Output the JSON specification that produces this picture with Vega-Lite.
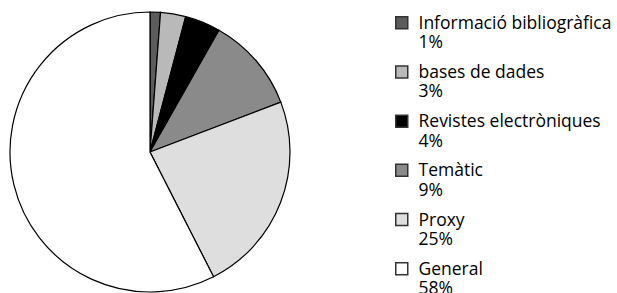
{
  "$schema": "https://vega.github.io/schema/vega-lite/v6.json",
  "width": 300,
  "height": 292,
  "autosize": {"type": "none"},
  "padding": {"left": 0, "top": 6, "right": 317, "bottom": 0},
  "background": "white",
  "view": {"stroke": null},
  "data": {
    "values": [
      {"cat": "Informació bibliogràfica|1%", "value": 1.2, "rank": 1},
      {"cat": "bases de dades|3%", "value": 2.9, "rank": 2},
      {"cat": "Revistes electròniques|4%", "value": 4.1, "rank": 3},
      {"cat": "Temàtic|9%", "value": 11.0, "rank": 4},
      {"cat": "Proxy|25%", "value": 23.3, "rank": 5},
      {"cat": "General|58%", "value": 57.5, "rank": 6}
    ]
  },
  "mark": {"type": "arc", "outerRadius": 140, "stroke": "#000", "strokeWidth": 1.2},
  "encoding": {
    "theta": {"field": "value", "type": "quantitative", "stack": true},
    "order": {"field": "rank", "type": "quantitative"},
    "color": {
      "field": "cat",
      "type": "nominal",
      "sort": null,
      "scale": {
        "domain": ["Informació bibliogràfica|1%", "bases de dades|3%", "Revistes electròniques|4%", "Temàtic|9%", "Proxy|25%", "General|58%"],
        "range": ["#5c5c5c", "#b9b9b9", "#000000", "#8a8a8a", "#dedede", "#ffffff"]
      },
      "legend": {
        "title": null,
        "orient": "none",
        "legendX": 393,
        "legendY": 8,
        "symbolType": "square",
        "symbolSize": 144,
        "symbolStrokeColor": "#333",
        "symbolStrokeWidth": 1.5,
        "symbolOpacity": 1,
        "labelFont": "Open Sans",
        "labelFontSize": 17.5,
        "labelColor": "#000",
        "labelLimit": 0,
        "labelOffset": 8,
        "labelBaseline": "alphabetic",
        "labelLineHeight": 19,
        "rowPadding": 10.2,
        "labelExpr": "split(datum.label, '|')",
        "encode": {"labels": {"update": {"dy": {"value": 6}}}}
      }
    }
  }
}
